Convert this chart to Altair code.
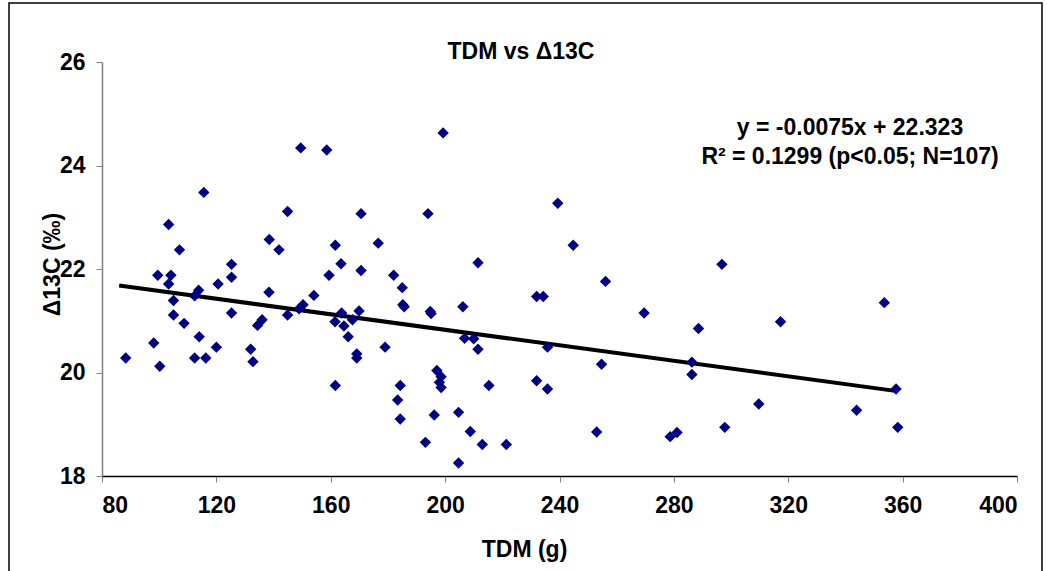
import altair as alt
import pandas as pd

# Scatter data
tdm = [88.3, 98.1, 100.2, 105.0, 105.0, 108.7, 114.0, 112.4, 116.3, 120.0,
       125.3, 132.0, 132.8, 134.4, 136.0, 138.4, 112.4, 113.8, 115.6, 103.3,
       107.1, 99.5, 104.1, 103.3, 125.3, 125.3, 120.6, 138.5, 141.9, 149.5,
       158.6, 199.3, 144.9, 170.6, 194.0, 161.6, 176.6, 163.6, 170.6, 159.4,
       182.0, 185.0, 154.1, 150.3, 148.9, 144.9, 163.8, 161.5, 164.6, 167.6,
       169.9, 166.1, 169.1, 169.1, 179.0, 185.2, 185.7, 194.8, 195.1, 206.2,
       206.8, 161.6, 184.3, 183.4, 184.3, 197.1, 198.6, 198.0, 198.6, 196.2,
       204.7, 193.1, 204.7, 208.8, 239.4, 244.8, 211.5, 256.1, 232.0, 234.3,
       269.6, 210.0, 211.5, 235.8, 254.7, 215.3, 232.0, 235.8, 213.0, 221.4,
       253.0, 353.6, 317.3, 288.6, 286.3, 286.3, 357.7, 309.7, 343.9, 278.7,
       281.1, 297.8, 358.3, 296.8]
d13c = [20.28, 20.57, 20.12, 21.39, 21.11, 20.95, 20.69, 20.28, 20.28, 20.49,
        21.15, 20.45, 20.21, 20.91, 21.02, 21.55, 21.48, 21.59, 23.48, 22.86,
        22.37, 21.88, 21.88, 21.71, 22.09, 21.84, 21.71, 22.57, 22.37, 24.34,
        24.30, 24.63, 23.11, 23.07, 23.07, 22.46, 22.50, 22.10, 21.97, 21.88,
        21.88, 21.64, 21.49, 21.31, 21.23, 21.11, 21.15, 20.98, 20.90, 21.02,
        21.19, 20.69, 20.36, 20.28, 20.49, 21.31, 21.27, 21.18, 21.14, 21.27,
        20.66, 19.75, 19.75, 19.47, 19.10, 20.04, 19.92, 19.81, 19.71, 19.18,
        19.23, 18.65, 18.25, 18.86, 23.27, 22.46, 22.12, 21.76, 21.47, 21.47,
        21.15, 20.65, 20.45, 20.49, 20.16, 19.75, 19.84, 19.68, 18.61, 18.61,
        18.85, 21.35, 20.98, 20.85, 20.20, 19.96, 19.68, 19.39, 19.27, 18.76,
        18.84, 18.94, 18.94, 22.09]

# Trend line end points (as drawn)
trend_x = [86, 358]
trend_y = [21.68, 19.64]

x_ticks = [80, 120, 160, 200, 240, 280, 320, 360, 400]
y_ticks = [18, 20, 22, 24, 26]

title_text = "TDM vs \u039413C"
y_title = "\u039413C (\u2030)"
eq_lines = ["y = -0.0075x + 22.323", "R\u00b2 = 0.1299 (p<0.05; N=107)"]

FONT = "Liberation Sans"
FS = 23
W, H = 915, 414
PAD_L, PAD_T = 102, 62

pts = pd.DataFrame({"TDM": tdm, "D13C": d13c})
trend = pd.DataFrame({"TDM": trend_x, "D13C": trend_y})

xscale = alt.Scale(domain=[80, 400], nice=False, zero=False)
yscale = alt.Scale(domain=[18, 26], nice=False, zero=False)

xaxis = alt.Axis(values=x_ticks, grid=False, domainColor="black", domainWidth=1.5,
                 tickColor="#808080", tickSize=6, labelPadding=12,
                 labelFont=FONT, labelFontSize=FS, labelFontWeight="bold", labelColor="black",
                 title="TDM (g)", titleFont=FONT, titleFontSize=FS, titleFontWeight="bold",
                 titleColor="black", titleX=422, titleY=73, titleBaseline="middle",
                 titleAlign="center")
yaxis = alt.Axis(values=y_ticks, grid=False, domainColor="#808080", domainWidth=1.5,
                 tickColor="#808080", tickSize=6, labelPadding=11,
                 labelFont=FONT, labelFontSize=FS, labelFontWeight="bold", labelColor="black",
                 title=y_title, titleFont=FONT, titleFontSize=FS,
                 titleFontWeight="bold", titleColor="black", titleX=-50, titleY=202,
                 titleAngle=270, titleBaseline="middle", titleAlign="center")

points = alt.Chart(pts).mark_point(shape="diamond", filled=True, size=130,
                                   color="#000080", opacity=1).encode(
    x=alt.X("TDM:Q", scale=xscale, axis=xaxis),
    y=alt.Y("D13C:Q", scale=yscale, axis=yaxis),
)

line = alt.Chart(trend).mark_line(color="black", strokeWidth=4).encode(
    x=alt.X("TDM:Q", scale=xscale),
    y=alt.Y("D13C:Q", scale=yscale),
)

title = alt.Chart(pd.DataFrame({"t": [title_text]})).mark_text(
    font=FONT, fontSize=FS, fontWeight="bold", color="black",
    align="center", baseline="middle").encode(
    x=alt.value(419), y=alt.value(-10), text="t:N")

eq = alt.Chart(pd.DataFrame({"t": eq_lines, "yy": [66, 95]})).mark_text(
    font=FONT, fontSize=FS, fontWeight="bold", color="black",
    align="center", baseline="middle").encode(
    x=alt.value(748), y=alt.Y("yy:Q", scale=None), text="t:N")

border = alt.Chart(pd.DataFrame({"a": [0]})).mark_rect(
    fill="transparent", stroke="black", strokeWidth=1.5).encode(
    x=alt.value(9 - PAD_L), x2=alt.value(1042 - PAD_L),
    y=alt.value(3 - PAD_T), y2=alt.value(580 - PAD_T))

chart = alt.layer(border, line, points, title, eq).properties(
    width=W, height=H,
    autosize=alt.AutoSizeParams(type="none"),
    padding={"left": PAD_L, "top": PAD_T, "right": 1047 - PAD_L - W, "bottom": 571 - PAD_T - H},
    background="white",
).configure_view(strokeWidth=0)

chart.save("out.html", embed_options={"renderer": "svg", "actions": False})
